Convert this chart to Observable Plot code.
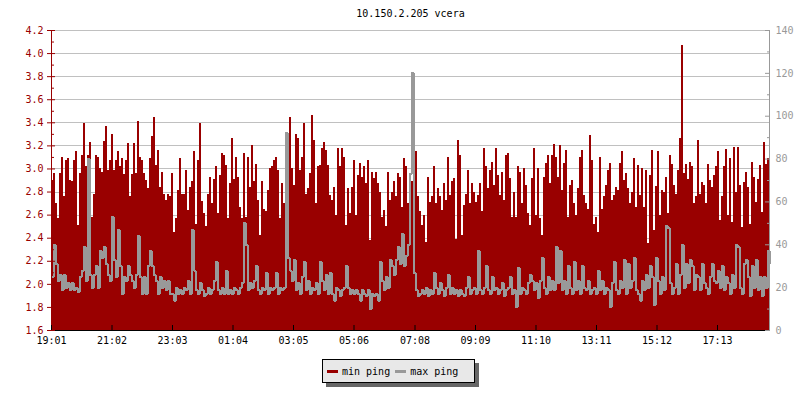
<!DOCTYPE html>
<html><head><meta charset="utf-8">
<script src="https://cdn.jsdelivr.net/npm/d3@7"></script>
<script src="https://cdn.jsdelivr.net/npm/@observablehq/plot@0.6"></script>
<style>
body{margin:0;background:#fff;}
#wrap{position:relative;width:800px;height:400px;}
#legend{position:absolute;left:322px;top:359px;width:151px;height:22px;border:1px solid #000;background:#e8e8e8;box-shadow:4px 4px 0 #666;font:10px "DejaVu Sans Mono",monospace;display:flex;align-items:center;white-space:pre;color:#000;}
.sw{display:inline-block;width:11px;height:3px;margin:0 4px 0 4px;}
</style></head>
<body>
<div id="wrap"><div id="chart"></div>
<div id="legend"><span class="sw" style="background:#990000"></span><span>min ping</span><span class="sw" style="background:#999;margin-left:5px"></span><span>max ping</span></div>
</div>
<script>
const title = "10.150.2.205 vcera";
const seriesNames = ["min ping", "max ping"];
const startLabel = "19:01";
const stepMinutes = 4;
const tickLabels = ["19:01","21:02","23:03","01:04","03:05","05:06","07:08","09:09","11:10","13:11","15:12","17:13"];
const leftTicks = [1.6,1.8,2.0,2.2,2.4,2.6,2.8,3.0,3.2,3.4,3.6,3.8,4.0,4.2];
const rightTicks = [0,20,40,60,80,100,120,140];
const rightMinor = [10,30,50,70,90,110,130];
const rightMax = 140;

// min ping (ms, left axis)
const minPing = [
2.90,2.96,2.70,2.57,2.96,3.10,2.76,3.07,3.09,2.90, 2.89,3.07,3.15,2.51,2.96,3.12,3.39,3.02,3.12,3.23,
2.58,2.78,3.12,3.10,3.00,2.97,3.24,3.37,2.99,3.07, 3.30,2.99,3.07,3.15,3.02,3.09,2.95,3.07,3.22,2.76,
2.95,3.22,2.96,3.41,3.10,3.07,2.96,2.90,2.83,3.09, 3.28,3.45,3.03,3.16,2.84,2.97,2.78,2.73,2.78,2.76,
2.96,2.45,2.57,2.81,3.09,2.78,2.78,2.99,2.64,2.84, 2.89,3.15,2.52,3.07,3.39,2.72,2.61,2.50,2.78,2.93,
2.70,2.91,3.02,2.61,2.94,3.13,3.12,3.03,2.57,2.87, 3.26,2.91,3.10,2.93,2.67,2.57,3.13,2.58,3.10,2.84,
3.20,2.89,3.04,2.73,2.42,2.89,2.65,2.63,2.81,3.00, 3.02,3.07,3.10,2.99,2.57,2.87,2.70,3.05,2.83,3.45,
3.00,2.86,3.30,3.26,2.99,3.10,3.39,2.78,2.83,2.96, 3.46,3.25,2.70,3.02,3.03,3.18,3.23,3.16,3.03,2.77,
2.73,2.84,2.60,3.18,3.02,3.18,3.10,2.51,2.83,2.61, 2.84,3.07,2.60,2.94,3.05,2.93,3.02,2.87,3.07,2.38,
2.97,2.92,2.97,2.87,2.80,2.58,2.64,2.50,2.97,2.73, 2.80,2.89,2.76,2.96,2.93,2.67,3.09,3.02,2.70,2.96,
2.89,2.78,3.15,2.76,2.63,2.51,2.60,2.36,2.93,2.71, 2.76,3.02,2.70,2.83,2.76,2.64,2.87,2.73,3.10,2.77,
2.89,2.92,2.39,3.25,3.12,2.42,2.68,2.78,2.99,2.70, 2.87,2.80,2.71,2.77,2.87,2.63,3.18,3.02,2.83,2.99,
3.06,2.86,3.18,2.94,2.77,2.97,2.73,3.12,3.13,2.92, 2.58,2.80,2.58,3.02,2.97,2.70,3.00,2.86,2.61,2.51,
2.92,3.18,2.60,3.00,2.57,2.42,2.93,3.05,3.12,2.87, 3.12,3.21,3.10,2.93,3.20,2.81,3.05,3.16,2.58,2.86,
2.90,2.70,2.60,2.83,3.10,3.16,2.77,2.70,2.65,3.29, 3.07,2.52,2.58,2.45,3.10,2.65,2.76,2.86,2.99,3.05,
2.73,2.77,2.84,2.81,3.05,3.15,2.90,2.96,2.83,2.70, 2.80,3.09,2.67,3.03,2.77,3.00,2.67,2.99,2.35,2.94,
3.16,2.47,2.85,3.15,2.60,2.81,2.80,2.93,2.61,3.12, 3.04,2.86,2.78,2.99,3.26,4.07,2.96,3.04,2.91,3.06,
3.02,2.70,2.76,3.25,2.78,2.88,2.86,2.70,3.04,2.90, 2.84,2.94,3.02,3.15,2.55,2.76,3.02,3.17,2.60,3.09,
2.54,3.19,2.80,3.19,2.86,2.49,2.88,2.97,2.84,2.52, 3.06,2.93,2.71,2.91,3.03,2.62,3.23,3.04,3.09,3.13
];
// max ping (ms, right axis)
const maxPing = [
25,40,31,23,26,19,26,20,22,19, 22,19,20,18,25,28,39,23,80,26,
20,26,30,20,37,34,39,31,26,23, 53,33,25,47,30,17,25,23,30,26,
23,20,26,44,25,17,25,17,30,37, 30,26,23,17,25,20,23,19,23,17,
17,14,20,17,19,17,20,19,23,17, 47,28,19,17,22,19,16,17,20,17,
19,23,32,19,17,20,17,28,17,19, 17,20,19,17,20,22,50,40,19,22,
20,23,30,19,17,20,19,27,17,20, 19,20,27,17,20,19,20,92,34,28,
23,33,19,22,17,25,32,19,23,17, 20,19,22,17,32,23,19,26,17,27,
17,14,20,19,16,19,20,30,20,17, 19,17,19,17,14,19,17,16,19,10,
17,16,17,14,32,23,19,25,20,33, 30,26,33,39,31,45,30,35,40,73,
120,27,19,16,17,19,17,20,16,19, 17,27,20,17,22,19,16,20,26,17,
20,17,19,16,19,17,16,20,25,17, 19,20,17,37,19,17,20,30,19,17,
25,19,20,17,19,22,16,19,20,25, 17,19,11,29,17,20,19,17,22,26,
23,19,22,15,23,34,20,17,25,19, 23,19,39,22,37,19,23,17,30,20,
17,32,19,23,17,30,20,19,23,17, 19,20,17,28,19,23,17,20,19,11,
22,32,19,17,23,20,33,17,31,20, 23,34,19,17,14,23,19,26,20,30,
25,12,34,23,17,25,19,49,48,22, 17,20,31,17,26,40,20,31,22,33,
30,19,26,25,19,31,22,20,17,25, 31,23,22,28,20,30,19,25,22,17,
26,20,40,39,20,17,31,33,25,16, 30,20,33,19,25,16,25,20,37,31
];

const yMin = leftTicks[0], yMax = leftTicks[leftTicks.length - 1];
const toLeft = v => yMin + v / rightMax * (yMax - yMin);
const toRight = y => Math.round((y - yMin) / (yMax - yMin) * rightMax);

function hm(s) { const [h, m] = s.split(":").map(Number); return Date.UTC(2024, 0, 1, h, m); }
const start = hm(startLabel);
const data = minPing.map((v, i) => ({t: new Date(start + i * stepMinutes * 60000), min: v, max: maxPing[i]}));
const end = data[data.length - 1].t;
const tickDates = tickLabels.map(s => { let t = hm(s); if (t < start) t += 864e5; return new Date(t); });
const fmt = d3.utcFormat("%H:%M");
const leftMinor = leftTicks.slice(0, -1).map(v => +(v + 0.1).toFixed(2));

const red = "#990000", gray = "#999999";
const crisp = {shapeRendering: "crispEdges"};

const chart = Plot.plot({
  width: 800, height: 400,
  marginLeft: 51, marginRight: 31, marginTop: 30, marginBottom: 70,
  style: {fontFamily: "'DejaVu Sans Mono', monospace", fontSize: "10px", background: "#fff", color: "#000"},
  x: {type: "utc", domain: [new Date(start), end], label: null},
  y: {domain: [yMin, yMax], label: null},
  marks: [
    Plot.ruleY(leftTicks, {stroke: "#c0c0c0", ...crisp}),
    Plot.areaY(data, {x: "t", y1: () => yMin, y2: "min", curve: "step-after", fill: red, ...crisp}),
    Plot.lineY(data, {x: "t", y: d => toLeft(d.max), curve: "step-after", stroke: gray, strokeWidth: 2, ...crisp}),
    Plot.ruleX([new Date(start)], {stroke: red, ...crisp}),
    Plot.ruleX([end], {stroke: gray, ...crisp}),
    Plot.ruleY([yMin], {stroke: "#000", ...crisp}),
    // left axis
    Plot.axisY({anchor: "left", ticks: leftTicks, tickSize: 4, fill: "none", stroke: red, label: null}),
    Plot.axisY({anchor: "left", ticks: leftTicks, tickSize: 4, dx: 4, fill: "none", stroke: red, label: null}),
    Plot.axisY({anchor: "left", ticks: leftMinor, tickSize: 3, dx: 3, fill: "none", stroke: red, label: null}),
    Plot.axisY({anchor: "left", ticks: leftTicks, tickSize: 0, tickPadding: 8, tickFormat: d3.format(".1f"), fill: red, label: null}),
    // right axis
    Plot.axisY({anchor: "right", ticks: rightTicks.map(toLeft), tickSize: 5, dx: -5, fill: "none", stroke: gray, label: null}),
    Plot.axisY({anchor: "right", ticks: rightMinor.map(toLeft), tickSize: 3, dx: -3, fill: "none", stroke: gray, label: null}),
    Plot.axisY({anchor: "right", ticks: rightTicks.map(toLeft), tickSize: 0, tickPadding: 6, tickFormat: d => String(toRight(d)), fill: gray, label: null}),
    // x axis
    Plot.axisX({ticks: tickDates, tickSize: 5, dy: -5, fill: "none", stroke: "#000", label: null}),
    Plot.axisX({ticks: tickDates, tickSize: 0, tickPadding: 6, tickFormat: fmt, fill: "#000", label: null}),
    Plot.text([title], {frameAnchor: "top", lineAnchor: "middle", dy: -17, fill: "#000"})
  ]
});
document.getElementById("chart").appendChild(chart);
</script>
</body></html>
